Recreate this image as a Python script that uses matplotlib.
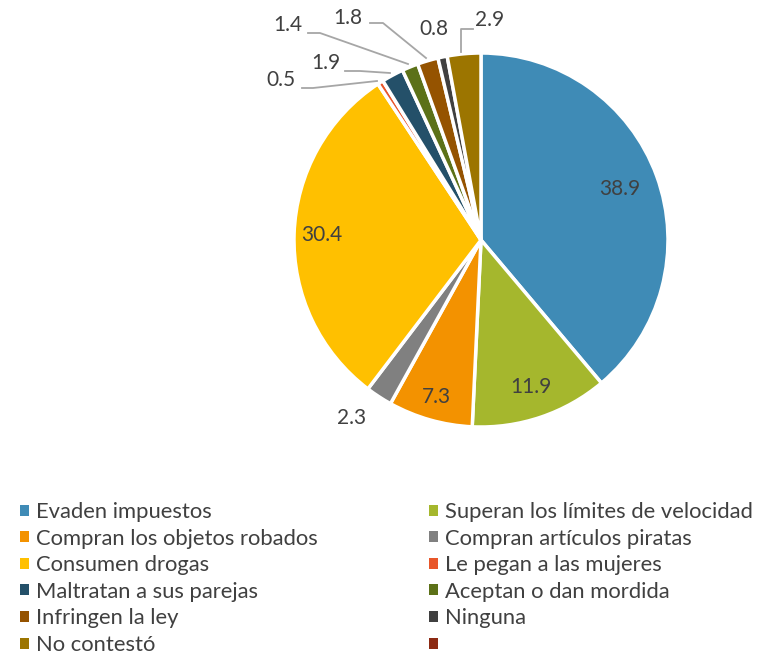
import matplotlib
matplotlib.use("Agg")
import matplotlib.pyplot as plt
from matplotlib.patches import Patch
import numpy as np

categories = ["Evaden impuestos", "Superan los límites de velocidad",
              "Compran los objetos robados", "Compran artículos piratas",
              "Consumen drogas", "Le pegan a las mujeres",
              "Maltratan a sus parejas", "Aceptan o dan mordida",
              "Infringen la ley", "Ninguna", "No contestó", ""]
values = [38.9, 11.9, 7.3, 2.3, 30.4, 0.5, 1.9, 1.4, 1.8, 0.8, 2.9]
labels = ["38.9", "11.9", "7.3", "2.3", "30.4", "0.5", "1.9", "1.4", "1.8", "0.8", "2.9"]
colors = ["#3F8BB6", "#A5B72D", "#F39200", "#808080", "#FFC000", "#E8562A",
          "#245069", "#5C7118", "#955300", "#404040", "#9C7500", "#8C2A13"]

W, H = 761, 661
CX, CY, R = 481, 240, 187
fig = plt.figure(figsize=(W / 100, H / 100), dpi=100)
ax = fig.add_axes([0, 0, 1, 1])

def px(x, y):
    return ((x - CX) / R, (CY - y) / R)

wedges, _ = ax.pie(values, colors=colors[:len(values)], startangle=90,
                   counterclock=False, radius=1.0, center=(0, 0),
                   wedgeprops=dict(edgecolor="white", linewidth=2.5))
ax.set_xlim(-CX / R, (W - CX) / R)
ax.set_ylim(-(H - CY) / R, CY / R)
ax.set_aspect("equal")
ax.axis("off")

font = "Lato"
tc = "#404040"
fs = 15

# inside labels
inside = {0: 0.79, 1: 0.83, 2: 0.87, 4: 0.85}
for i, r in inside.items():
    w = wedges[i]
    ang = np.deg2rad((w.theta1 + w.theta2) / 2)
    ax.text(r * np.cos(ang), r * np.sin(ang), labels[i], ha="center", va="center",
            fontsize=fs, color=tc, family=font)

# outside labels (positions in pixels) with leader lines
outside = {
    3: ((352, 418), None),
    5: ((281, 80), [(377, 81), (313, 88), (302, 88)]),
    6: ((326, 63), [(390, 73), (360, 71), (345, 71)]),
    7: ((288, 25), [(408, 64), (320, 33), (308, 33)]),
    8: ((348, 18), [(426, 58), (383, 23), (370, 23)]),
    9: ((434, 29), None),
    10: ((490, 20), [(461, 52), (461, 29), (473, 29)]),
}
for i, ((tx, ty), line) in outside.items():
    x, y = px(tx, ty)
    ax.text(x, y, labels[i], ha="center", va="center", fontsize=fs,
            color=tc, family=font)
    if line:
        pts = np.array([px(a, b) for a, b in line])
        ax.plot(pts[:, 0], pts[:, 1], color="#A6A6A6", lw=1.3)

handles = [Patch(facecolor=c, edgecolor="none") for c in colors]
order = list(range(0, 12, 2)) + list(range(1, 12, 2))
leg = fig.legend([handles[i] for i in order], [categories[i] for i in order],
                 ncol=2, loc="upper left", bbox_to_anchor=(20 / W, 1 - 502 / H),
                 frameon=False, prop=dict(family=font, size=15.8),
                 handlelength=0.4, handleheight=0.4, handletextpad=0.35,
                 labelspacing=0.3, columnspacing=5.05, borderpad=0, borderaxespad=0,
                 labelcolor=tc)

fig.savefig("out.png", dpi=100)
